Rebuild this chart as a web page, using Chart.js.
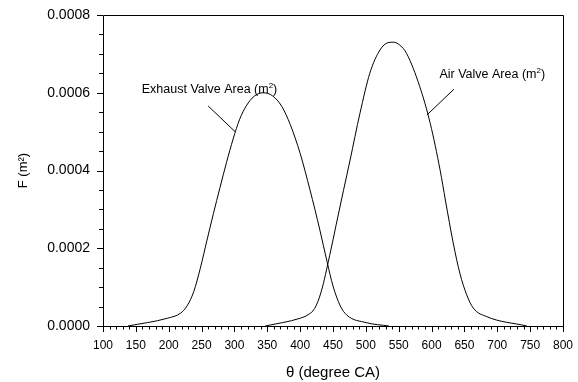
<!DOCTYPE html>
<html>
<head>
<meta charset="utf-8">
<script src="https://cdn.jsdelivr.net/npm/chart.js@4/dist/chart.umd.min.js"></script>
<style>
  html, body { margin: 0; padding: 0; background: #fff; }
  #wrap { width: 578px; height: 382px; position: relative; }
</style>
</head>
<body>
<div id="wrap"><canvas id="c" width="578" height="382"></canvas></div>
<script>
// ---- data ----
const exhaustTheta = [138, 198, 218, 228, 238, 248, 258, 268, 278, 288, 298, 308, 318, 330, 344, 358, 372, 385, 400, 415, 430, 441, 450, 461, 471, 501, 535];
const exhaustArea  = [0, 0.00002, 0.000033, 0.000052, 0.000088, 0.000148, 0.000219, 0.000289, 0.000356, 0.000421, 0.000481, 0.000532, 0.000566, 0.000591, 0.0006, 0.000592, 0.000565, 0.000518, 0.000444, 0.00035, 0.000247, 0.000165, 0.000103, 0.000052, 0.000028, 0.0000085, 0];
const airTheta = [347, 400, 412, 422, 432, 445, 455, 466, 476, 491, 506, 521.5, 534, 542, 552, 562, 582, 598, 613, 621, 633, 643, 653.5, 663.5, 684, 745];
const airArea  = [0, 0.00002, 0.000029, 0.000045, 0.000088, 0.000182, 0.000262, 0.000349, 0.000427, 0.000547, 0.00065, 0.00071, 0.000729, 0.00073, 0.000722, 0.000701, 0.000616, 0.000521, 0.000401, 0.000324, 0.000213, 0.000136, 0.00008, 0.000046, 0.000024, 0];
const xTickLabels = ['100','150','200','250','300','350','400','450','500','550','600','650','700','750','800'];
const yTickLabels = ['0.0000','0.0002','0.0004','0.0006','0.0008'];
const xTitle = 'θ (degree CA)';
const yTitle = 'F (m²)';
const annotations = [
  { text: 'Exhaust Valve Area (m', sup: '2', tail: ')', x: 159, y: 0.000599, from: [260, 0.000566], to: [301, 0.0005] },
  { text: 'Air Valve Area (m', sup: '2', tail: ')', x: 612, y: 0.000637, from: [634, 0.000609], to: [593, 0.000543] }
];

const toPts = (xs, ys) => xs.map((x, i) => ({ x: x, y: ys[i] }));
const FONT = 'Liberation Sans, Arial, sans-serif';

const framePlugin = {
  id: 'frame',
  afterDraw(chart) {
    const ctx = chart.ctx, a = chart.chartArea;
    const xs = chart.scales.x, ys = chart.scales.y;
    ctx.save();
    ctx.strokeStyle = '#000';
    ctx.lineWidth = 1;
    ctx.beginPath();
    ctx.rect(Math.round(a.left) + 0.5, Math.round(a.top) + 0.5, Math.round(a.right - a.left), Math.round(a.bottom - a.top));
    ctx.stroke();
    ctx.beginPath();
    for (let v = 100; v <= 800; v += 10) {
      const px = Math.round(xs.getPixelForValue(v)) + 0.5;
      const len = (v % 50 === 0) ? 6 : 3.5;
      ctx.moveTo(px, Math.round(a.bottom));
      ctx.lineTo(px, Math.round(a.bottom) + len);
    }
    for (let i = 0; i <= 16; i++) {
      const v = i * 0.00005;
      const py = Math.round(ys.getPixelForValue(v)) + 0.5;
      const len = (i % 4 === 0) ? 6 : 4;
      ctx.moveTo(Math.round(a.left), py);
      ctx.lineTo(Math.round(a.left) - len, py);
    }
    ctx.stroke();
    ctx.fillStyle = '#000';
    ctx.textBaseline = 'alphabetic';
    ctx.textAlign = 'left';
    annotations.forEach(an => {
      const x0 = xs.getPixelForValue(an.x), y0 = ys.getPixelForValue(an.y);
      ctx.font = '12.5px ' + FONT;
      ctx.fillText(an.text, x0, y0);
      let w = ctx.measureText(an.text).width;
      ctx.font = '8px ' + FONT;
      ctx.fillText(an.sup, x0 + w, y0 - 5);
      w += ctx.measureText(an.sup).width;
      ctx.font = '12.5px ' + FONT;
      ctx.fillText(an.tail, x0 + w, y0);
      ctx.beginPath();
      ctx.moveTo(xs.getPixelForValue(an.from[0]), ys.getPixelForValue(an.from[1]));
      ctx.lineTo(xs.getPixelForValue(an.to[0]), ys.getPixelForValue(an.to[1]));
      ctx.stroke();
    });
    ctx.restore();
  }
};

new Chart(document.getElementById('c'), {
  type: 'scatter',
  data: {
    datasets: [
      { label: 'Exhaust Valve Area', data: toPts(exhaustTheta, exhaustArea), showLine: true, borderColor: '#000', borderWidth: 1, pointRadius: 0, cubicInterpolationMode: 'monotone', fill: false },
      { label: 'Air Valve Area', data: toPts(airTheta, airArea), showLine: true, borderColor: '#000', borderWidth: 1, pointRadius: 0, cubicInterpolationMode: 'monotone', fill: false }
    ]
  },
  options: {
    responsive: false,
    animation: false,
    layout: { padding: { top: 15, right: 15, left: 0, bottom: 0 } },
    plugins: { legend: { display: false }, tooltip: { enabled: false } },
    scales: {
      x: {
        type: 'linear', min: 100, max: 800,
        grid: { display: false, drawTicks: false },
        border: { display: false },
        afterBuildTicks: s => { s.ticks = xTickLabels.map(t => ({ value: Number(t) })); },
        ticks: { autoSkip: false, maxRotation: 0, padding: 12, color: '#000', font: { family: FONT, size: 12 }, callback: (v) => String(v) },
        title: { display: true, text: xTitle, color: '#000', font: { family: FONT, size: 15 }, padding: { top: 5, bottom: 0 } },
        afterFit: s => { s.height = 56; s.paddingLeft = 0; s.paddingRight = 0; }
      },
      y: {
        type: 'linear', min: 0, max: 0.0008,
        grid: { display: false, drawTicks: false },
        border: { display: false },
        afterBuildTicks: s => { s.ticks = yTickLabels.map(t => ({ value: Number(t) })); },
        ticks: { autoSkip: false, padding: 13, color: '#000', font: { family: FONT, size: 14 }, callback: (v) => Number(v).toFixed(4) },
        title: { display: true, text: yTitle, color: '#000', font: { family: FONT, size: 13 }, padding: { top: 16, bottom: 0 } },
        afterFit: s => { s.width = 103; s.paddingTop = 0; s.paddingBottom = 0; }
      }
    }
  },
  plugins: [framePlugin]
});
</script>
</body>
</html>
